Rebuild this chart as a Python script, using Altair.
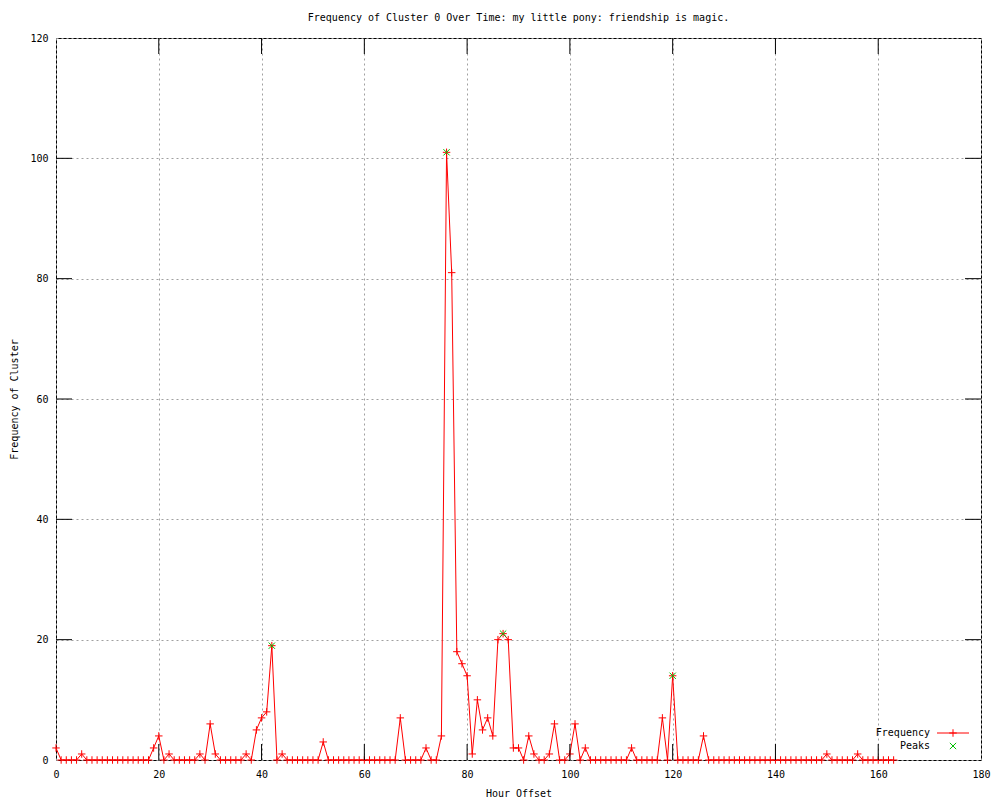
import altair as alt
import pandas as pd

hours = list(range(0, 164))
freq = [
    2, 0, 0, 0, 0, 1, 0, 0, 0, 0,   # 0-9
    0, 0, 0, 0, 0, 0, 0, 0, 0, 2,   # 10-19
    4, 0, 1, 0, 0, 0, 0, 0, 1, 0,   # 20-29
    6, 1, 0, 0, 0, 0, 0, 1, 0, 5,   # 30-39
    7, 8, 19, 0, 1, 0, 0, 0, 0, 0,  # 40-49
    0, 0, 3, 0, 0, 0, 0, 0, 0, 0,   # 50-59
    0, 0, 0, 0, 0, 0, 0, 7, 0, 0,   # 60-69
    0, 0, 2, 0, 0, 4, 101, 81, 18, 16,  # 70-79
    14, 1, 10, 5, 7, 4, 20, 21, 20, 2,  # 80-89
    2, 0, 4, 1, 0, 0, 1, 6, 0, 0,   # 90-99
    1, 6, 0, 2, 0, 0, 0, 0, 0, 0,   # 100-109
    0, 0, 2, 0, 0, 0, 0, 0, 7, 0,   # 110-119
    14, 0, 0, 0, 0, 0, 4, 0, 0, 0,  # 120-129
    0, 0, 0, 0, 0, 0, 0, 0, 0, 0,   # 130-139
    0, 0, 0, 0, 0, 0, 0, 0, 0, 0,   # 140-149
    1, 0, 0, 0, 0, 0, 1, 0, 0, 0,   # 150-159
    0, 0, 0, 0,                     # 160-163
]
peak_hours = [42, 76, 87, 120]
peak_values = [19, 101, 21, 14]

x_ticks = [0, 20, 40, 60, 80, 100, 120, 140, 160, 180]
y_ticks = [0, 20, 40, 60, 80, 100, 120]

title_text = "Frequency of Cluster 0 Over Time: my little pony: friendship is magic."
FONT = "DejaVu Sans Mono"
W, H = 925, 722
PLUS = "M-1,0L1,0M0,-1L0,1"
CROSS = "M-1,-1L1,1M-1,1L1,-1"
GREEN = "#00c000"

df = pd.DataFrame({"hour": hours, "freq": freq})
peaks = pd.DataFrame({"hour": peak_hours, "freq": peak_values})
xt = pd.DataFrame({"t": x_ticks[1:-1]})
yt = pd.DataFrame({"t": y_ticks[1:-1]})
one = pd.DataFrame({"k": [0]})

xscale = alt.Scale(domain=[0, 180], nice=False, zero=False)
yscale = alt.Scale(domain=[0, 120], nice=False, zero=False)

xaxis = alt.Axis(values=x_ticks, grid=True, gridDash=[2, 3], gridColor="#a0a0a0",
                 ticks=False, domain=False, labelPadding=9, format="d",
                 title="Hour Offset", titleY=33, titleBaseline="middle",
                 labelFlush=False)
yaxis = alt.Axis(values=y_ticks, grid=True, gridDash=[2, 3], gridColor="#a0a0a0",
                 ticks=False, domain=False, labelPadding=8, format="d",
                 title="Frequency of Cluster", titleX=-42, titleY=H / 2,
                 titleAngle=-90, titleBaseline="middle", titleAlign="center",
                 labelFlush=False)

base_line = alt.Chart(df).mark_line(color="red", strokeWidth=1).encode(
    x=alt.X("hour:Q", scale=xscale, axis=xaxis),
    y=alt.Y("freq:Q", scale=yscale, axis=yaxis),
)
pts = alt.Chart(df).mark_point(shape=PLUS, size=56, color="red", strokeWidth=1,
                               filled=False, opacity=1).encode(
    x=alt.X("hour:Q", scale=xscale),
    y=alt.Y("freq:Q", scale=yscale),
)
peak_pts = alt.Chart(peaks).mark_point(shape=CROSS, size=40, color=GREEN, strokeWidth=1,
                                       filled=False, opacity=1).encode(
    x=alt.X("hour:Q", scale=xscale),
    y=alt.Y("freq:Q", scale=yscale),
)

tick_style = dict(color="black", strokeWidth=1)
xb = alt.Chart(xt).mark_rule(**tick_style).encode(
    x=alt.X("t:Q", scale=xscale), y=alt.value(H), y2=alt.value(H - 16))
xtop = alt.Chart(xt).mark_rule(**tick_style).encode(
    x=alt.X("t:Q", scale=xscale), y=alt.value(0), y2=alt.value(16))
yl = alt.Chart(yt).mark_rule(**tick_style).encode(
    y=alt.Y("t:Q", scale=yscale), x=alt.value(0), x2=alt.value(16))
yr = alt.Chart(yt).mark_rule(**tick_style).encode(
    y=alt.Y("t:Q", scale=yscale), x=alt.value(W - 16), x2=alt.value(W))

# title as a text mark above the plot area
title_mark = alt.Chart(one).mark_text(text=title_text, align="center", baseline="middle",
                                      font=FONT, fontSize=10, color="black").encode(
    x=alt.value(W / 2), y=alt.value(-20))

# legend (gnuplot style, bottom right inside)
lx_text, lx0, lx1 = 874, 881, 913
ly1, ly2 = 695, 708
leg_t1 = alt.Chart(one).mark_text(text="Frequency", align="right", baseline="middle",
                                  font=FONT, fontSize=10, color="black").encode(
    x=alt.value(lx_text), y=alt.value(ly1))
leg_t2 = alt.Chart(one).mark_text(text="Peaks", align="right", baseline="middle",
                                  font=FONT, fontSize=10, color="black").encode(
    x=alt.value(lx_text), y=alt.value(ly2))
leg_l = alt.Chart(one).mark_rule(color="red", strokeWidth=1).encode(
    x=alt.value(lx0), x2=alt.value(lx1), y=alt.value(ly1))
leg_p = alt.Chart(one).mark_point(shape=PLUS, size=56, color="red", strokeWidth=1,
                                  filled=False, opacity=1).encode(
    x=alt.value((lx0 + lx1) / 2), y=alt.value(ly1))
leg_x = alt.Chart(one).mark_point(shape=CROSS, size=40, color=GREEN, strokeWidth=1,
                                  filled=False, opacity=1).encode(
    x=alt.value((lx0 + lx1) / 2), y=alt.value(ly2))

chart = alt.layer(
    base_line, pts, peak_pts, xb, xtop, yl, yr, title_mark,
    leg_t1, leg_t2, leg_l, leg_p, leg_x,
).properties(
    width=W, height=H,
    autosize=alt.AutoSizeParams(type="none"),
    padding={"left": 48, "top": 30, "right": 11, "bottom": 38},
).configure_view(
    stroke="black", strokeWidth=1
).configure_axis(
    labelFont=FONT, labelFontSize=10, labelColor="black",
    titleFont=FONT, titleFontSize=10, titleFontWeight="normal", titleColor="black",
)

chart.save("out.html", embed_options={"renderer": "svg", "actions": False})
